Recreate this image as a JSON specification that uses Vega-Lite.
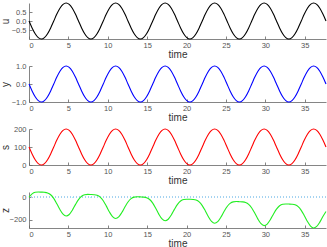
{
  "$schema": "https://vega.github.io/schema/vega-lite/v6.json",
  "padding": {"left": 0, "top": 0, "right": 0, "bottom": 0},
  "bounds": "flush",
  "spacing": 27,
  "config": {
    "view": {"stroke": null},
    "axis": {
      "domainColor": "#666666", "tickColor": "#666666", "labelColor": "#555555", "titleColor": "#333333",
      "labelFont": "Liberation Sans", "titleFont": "Liberation Sans",
      "labelFontSize": 7.5, "titleFontSize": 10, "titleFontWeight": "normal",
      "grid": false, "tickSize": -3, "domainWidth": 0.8, "tickWidth": 0.8
    },
    "axisX": {"labelPadding": 5.5, "titleY": 18, "titleBaseline": "alphabetic"},
    "axisY": {"labelPadding": 6, "titleX": -21, "titleY": 18, "titleBaseline": "alphabetic", "titleAngle": 270}
  },
  "data": {"values": [
    {"t": 0, "u": 0, "s": 100, "z": 0},
    {"t": 0.393, "u": -0.383, "s": 61.7, "z": 29.6},
    {"t": 0.785, "u": -0.707, "s": 29.3, "z": 43.1},
    {"t": 1.178, "u": -0.924, "s": 7.6, "z": 45.8},
    {"t": 1.571, "u": -1, "s": 0, "z": 44.8},
    {"t": 1.963, "u": -0.924, "s": 7.6, "z": 43.2},
    {"t": 2.356, "u": -0.707, "s": 29.3, "z": 37.8},
    {"t": 2.749, "u": -0.383, "s": 61.7, "z": 21.8},
    {"t": 3.142, "u": 0, "s": 100, "z": -10.5},
    {"t": 3.534, "u": 0.383, "s": 138.3, "z": -57.4},
    {"t": 3.927, "u": 0.707, "s": 170.7, "z": -108.8},
    {"t": 4.32, "u": 0.924, "s": 192.4, "z": -149.5},
    {"t": 4.712, "u": 1, "s": 200, "z": -165.7},
    {"t": 5.105, "u": 0.924, "s": 192.4, "z": -152.1},
    {"t": 5.498, "u": 0.707, "s": 170.7, "z": -114.1},
    {"t": 5.89, "u": 0.383, "s": 138.3, "z": -65.3},
    {"t": 6.283, "u": 0, "s": 100, "z": -21.0},
    {"t": 6.676, "u": -0.383, "s": 61.7, "z": 8.7},
    {"t": 7.069, "u": -0.707, "s": 29.3, "z": 22.1},
    {"t": 7.461, "u": -0.924, "s": 7.6, "z": 24.8},
    {"t": 7.854, "u": -1, "s": 0, "z": 23.8},
    {"t": 8.247, "u": -0.924, "s": 7.6, "z": 22.2},
    {"t": 8.639, "u": -0.707, "s": 29.3, "z": 16.9},
    {"t": 9.032, "u": -0.383, "s": 61.7, "z": 0.8},
    {"t": 9.425, "u": 0, "s": 100, "z": -31.5},
    {"t": 9.817, "u": 0.383, "s": 138.3, "z": -78.4},
    {"t": 10.21, "u": 0.707, "s": 170.7, "z": -129.8},
    {"t": 10.603, "u": 0.924, "s": 192.4, "z": -170.5},
    {"t": 10.996, "u": 1, "s": 200, "z": -186.7},
    {"t": 11.388, "u": 0.924, "s": 192.4, "z": -173.1},
    {"t": 11.781, "u": 0.707, "s": 170.7, "z": -135.1},
    {"t": 12.174, "u": 0.383, "s": 138.3, "z": -86.3},
    {"t": 12.566, "u": 0, "s": 100, "z": -42.0},
    {"t": 12.959, "u": -0.383, "s": 61.7, "z": -12.3},
    {"t": 13.352, "u": -0.707, "s": 29.3, "z": 1.1},
    {"t": 13.744, "u": -0.924, "s": 7.6, "z": 3.8},
    {"t": 14.137, "u": -1, "s": 0, "z": 2.8},
    {"t": 14.53, "u": -0.924, "s": 7.6, "z": 1.2},
    {"t": 14.923, "u": -0.707, "s": 29.3, "z": -4.1},
    {"t": 15.315, "u": -0.383, "s": 61.7, "z": -20.2},
    {"t": 15.708, "u": 0, "s": 100, "z": -52.5},
    {"t": 16.101, "u": 0.383, "s": 138.3, "z": -99.4},
    {"t": 16.493, "u": 0.707, "s": 170.7, "z": -150.8},
    {"t": 16.886, "u": 0.924, "s": 192.4, "z": -191.5},
    {"t": 17.279, "u": 1, "s": 200, "z": -207.7},
    {"t": 17.671, "u": 0.924, "s": 192.4, "z": -194.1},
    {"t": 18.064, "u": 0.707, "s": 170.7, "z": -156.0},
    {"t": 18.457, "u": 0.383, "s": 138.3, "z": -107.2},
    {"t": 18.85, "u": 0, "s": 100, "z": -63.0},
    {"t": 19.242, "u": -0.383, "s": 61.7, "z": -33.3},
    {"t": 19.635, "u": -0.707, "s": 29.3, "z": -19.9},
    {"t": 20.028, "u": -0.924, "s": 7.6, "z": -17.2},
    {"t": 20.42, "u": -1, "s": 0, "z": -18.2},
    {"t": 20.813, "u": -0.924, "s": 7.6, "z": -19.8},
    {"t": 21.206, "u": -0.707, "s": 29.3, "z": -25.1},
    {"t": 21.598, "u": -0.383, "s": 61.7, "z": -41.2},
    {"t": 21.991, "u": 0, "s": 100, "z": -73.5},
    {"t": 22.384, "u": 0.383, "s": 138.3, "z": -120.4},
    {"t": 22.777, "u": 0.707, "s": 170.7, "z": -171.8},
    {"t": 23.169, "u": 0.924, "s": 192.4, "z": -212.5},
    {"t": 23.562, "u": 1, "s": 200, "z": -228.7},
    {"t": 23.955, "u": 0.924, "s": 192.4, "z": -215.1},
    {"t": 24.347, "u": 0.707, "s": 170.7, "z": -177.0},
    {"t": 24.74, "u": 0.383, "s": 138.3, "z": -128.2},
    {"t": 25.133, "u": 0, "s": 100, "z": -83.9},
    {"t": 25.525, "u": -0.383, "s": 61.7, "z": -54.3},
    {"t": 25.918, "u": -0.707, "s": 29.3, "z": -40.9},
    {"t": 26.311, "u": -0.924, "s": 7.6, "z": -38.2},
    {"t": 26.704, "u": -1, "s": 0, "z": -39.2},
    {"t": 27.096, "u": -0.924, "s": 7.6, "z": -40.8},
    {"t": 27.489, "u": -0.707, "s": 29.3, "z": -46.1},
    {"t": 27.882, "u": -0.383, "s": 61.7, "z": -62.2},
    {"t": 28.274, "u": 0, "s": 100, "z": -94.4},
    {"t": 28.667, "u": 0.383, "s": 138.3, "z": -141.3},
    {"t": 29.06, "u": 0.707, "s": 170.7, "z": -192.8},
    {"t": 29.452, "u": 0.924, "s": 192.4, "z": -233.4},
    {"t": 29.845, "u": 1, "s": 200, "z": -249.7},
    {"t": 30.238, "u": 0.924, "s": 192.4, "z": -236.1},
    {"t": 30.631, "u": 0.707, "s": 170.7, "z": -198.0},
    {"t": 31.023, "u": 0.383, "s": 138.3, "z": -149.2},
    {"t": 31.416, "u": 0, "s": 100, "z": -104.9},
    {"t": 31.809, "u": -0.383, "s": 61.7, "z": -75.3},
    {"t": 32.201, "u": -0.707, "s": 29.3, "z": -61.8},
    {"t": 32.594, "u": -0.924, "s": 7.6, "z": -59.2},
    {"t": 32.987, "u": -1, "s": 0, "z": -60.2},
    {"t": 33.379, "u": -0.924, "s": 7.6, "z": -61.8},
    {"t": 33.772, "u": -0.707, "s": 29.3, "z": -67.1},
    {"t": 34.165, "u": -0.383, "s": 61.7, "z": -83.2},
    {"t": 34.558, "u": 0, "s": 100, "z": -115.4},
    {"t": 34.95, "u": 0.383, "s": 138.3, "z": -162.3},
    {"t": 35.343, "u": 0.707, "s": 170.7, "z": -213.8},
    {"t": 35.736, "u": 0.924, "s": 192.4, "z": -254.4},
    {"t": 36.128, "u": 1, "s": 200, "z": -270.7},
    {"t": 36.521, "u": 0.924, "s": 192.4, "z": -257.1},
    {"t": 36.914, "u": 0.707, "s": 170.7, "z": -219.0},
    {"t": 37.306, "u": 0.383, "s": 138.3, "z": -170.2},
    {"t": 37.699, "u": 0, "s": 100, "z": -125.9}
  ]},
  "vconcat": [
    {
      "width": 297, "height": 36,
      "mark": {"type": "line", "color": "#000000", "strokeWidth": 1.1, "interpolate": "monotone"},
      "encoding": {
        "x": {"field": "t", "type": "quantitative", "title": "time", "scale": {"domain": [0, 37.699], "nice": false}, "axis": {"values": [0, 5, 10, 15, 20, 25, 30, 35]}},
        "y": {"field": "u", "type": "quantitative", "title": "u", "scale": {"domain": [-1, 1], "nice": false}, "axis": {"values": [-0.5, 0, 0.5]}}
      }
    },
    {
      "width": 297, "height": 36,
      "mark": {"type": "line", "color": "#0000ff", "strokeWidth": 1.1, "interpolate": "monotone"},
      "encoding": {
        "x": {"field": "t", "type": "quantitative", "title": "time", "scale": {"domain": [0, 37.699], "nice": false}, "axis": {"values": [0, 5, 10, 15, 20, 25, 30, 35]}},
        "y": {"field": "u", "type": "quantitative", "title": "y", "scale": {"domain": [-1, 1], "nice": false}, "axis": {"values": [-1, 0, 1]}}
      }
    },
    {
      "width": 297, "height": 36,
      "mark": {"type": "line", "color": "#ff0000", "strokeWidth": 1.1, "interpolate": "monotone"},
      "encoding": {
        "x": {"field": "t", "type": "quantitative", "title": "time", "scale": {"domain": [0, 37.699], "nice": false}, "axis": {"values": [0, 5, 10, 15, 20, 25, 30, 35]}},
        "y": {"field": "s", "type": "quantitative", "title": "s", "scale": {"domain": [0, 200], "nice": false}, "axis": {"values": [0, 100, 200]}}
      }
    },
    {
      "width": 297, "height": 36,
      "layer": [
        {
          "mark": {"type": "rule", "color": "#a6d2f0", "strokeWidth": 1, "strokeDash": [1, 2]},
          "encoding": {"y": {"datum": 0, "type": "quantitative"}}
        },
        {
          "mark": {"type": "line", "color": "#22ee22", "strokeWidth": 1.1, "interpolate": "monotone"},
          "encoding": {
            "x": {"field": "t", "type": "quantitative", "title": "time", "scale": {"domain": [0, 37.699], "nice": false}, "axis": {"values": [0, 5, 10, 15, 20, 25, 30, 35]}},
            "y": {"field": "z", "type": "quantitative", "title": "z", "scale": {"domain": [-271, 46], "nice": false}, "axis": {"values": [-200, -100, 0]}}
          }
        }
      ]
    }
  ]
}
